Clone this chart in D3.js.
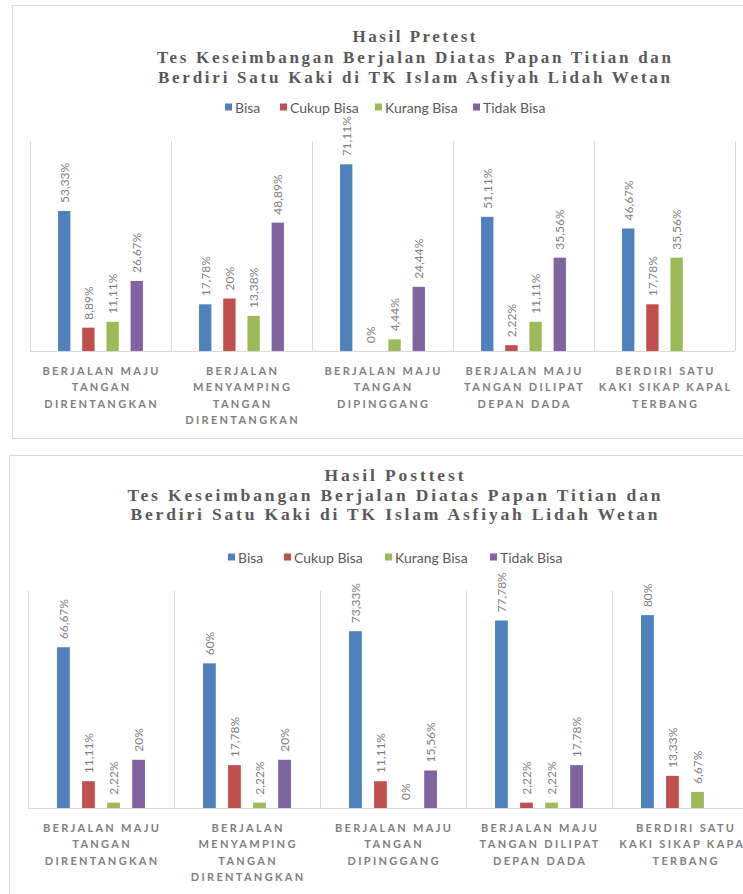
<!doctype html>
<html>
  <head>
    <style>
      body { margin: 0; background: #fff; }
      svg { display: block; }
    </style>
  </head>
  <body>
    <svg id='chart0'></svg>

    <script src='https://d3js.org/d3.v7.min.js'></script>
    <script>
      // Categories (x groups) and series shared by both charts.
      const categories = [
          'Berjalan Maju Tangan Direntangkan',
          'Berjalan Menyamping Tangan Direntangkan',
          'Berjalan Maju Tangan Dipinggang',
          'Berjalan Maju Tangan Dilipat Depan Dada',
          'Berdiri Satu Kaki Sikap Kapal Terbang',
      ];
      const series = ['Bisa', 'Cukup Bisa', 'Kurang Bisa', 'Tidak Bisa'];

      // Percentages per series, one value per category (null = no bar).
      const pretest_bisa   = [53.33, 17.78, 71.11, 51.11, 46.67];
      const pretest_cukup  = [8.89, 20, 0, 2.22, 17.78];
      const pretest_kurang = [11.11, 13.38, 4.44, 11.11, 35.56];
      const pretest_tidak  = [26.67, 48.89, 24.44, 35.56, null];

      const posttest_bisa   = [66.67, 60, 73.33, 77.78, 80];
      const posttest_cukup  = [11.11, 17.78, 11.11, 2.22, 13.33];
      const posttest_kurang = [2.22, 2.22, 0, 2.22, 6.67];
      const posttest_tidak  = [20, 20, 15.56, 17.78, null];

      const pretest_title = [
          'Hasil Pretest',
          'Tes Keseimbangan Berjalan Diatas Papan Titian dan',
          'Berdiri Satu Kaki di TK Islam Asfiyah Lidah Wetan',
      ];
      const posttest_title = [
          'Hasil Posttest',
          'Tes Keseimbangan Berjalan Diatas Papan Titian dan',
          'Berdiri Satu Kaki di TK Islam Asfiyah Lidah Wetan',
      ];

      // value axis maximum (percent) of each chart
      const pretest_axis_max = 80;
      const posttest_axis_max = 90;

      const colors = ['#4F81BD', '#C0504D', '#9BBB59', '#8064A2'];

      const width = 743;
      const height = 894;
      const sans = 'Lato, "Open Sans", sans-serif';
      const label_spacing = 2.3;
      const label_wrap = 139;

      const svg = d3.select('svg#chart0')
                    .attr('width', width)
                    .attr('height', height);

      const fmt = v => (Number.isInteger(v) ? String(v) : v.toFixed(2).replace('.', ',')) + '%';

      // word wrap using the real rendered width
      function wrap_words(text, max_width) {
          const probe = svg.append('text')
                           .attr('font-family', sans)
                           .attr('font-size', 11)
                           .attr('font-weight', 'bold')
                           .attr('letter-spacing', label_spacing);
          const words = text.toUpperCase().split(' ');
          const lines = [];
          let line = '';
          for (const w of words) {
              const test = line ? line + ' ' + w : w;
              probe.text(test);
              if (line && probe.node().getComputedTextLength() > max_width) {
                  lines.push(line);
                  line = w;
              } else {
                  line = test;
              }
          }
          lines.push(line);
          probe.remove();
          return lines;
      }

      function draw_chart(cfg) {
          const g = svg.append('g');

          g.append('rect')
           .attr('x', cfg.frame.x + 0.5)
           .attr('y', cfg.frame.y + 0.5)
           .attr('width', cfg.frame.w)
           .attr('height', cfg.frame.h)
           .attr('fill', '#fff')
           .attr('stroke', '#d9d9d9');

          // title
          g.append('g').selectAll('text')
           .data(cfg.title)
           .join('text')
           .attr('x', cfg.title_x)
           .attr('y', (d, i) => cfg.title_y[i])
           .attr('text-anchor', 'middle')
           .attr('dominant-baseline', 'central')
           .attr('font-family', '"Liberation Serif", serif')
           .attr('font-weight', 'bold')
           .attr('font-size', cfg.title_size)
           .attr('fill', '#595959')
           .attr('textLength', (d, i) => cfg.title_w[i])
           .attr('lengthAdjust', 'spacing')
           .text(d => d);

          // legend
          const leg = g.append('g').selectAll('g')
                       .data(series)
                       .join('g')
                       .attr('transform', (d, i) => `translate(${cfg.legend_x[i]},${cfg.legend_y})`);
          leg.append('rect')
             .attr('x', 0).attr('y', -3.5)
             .attr('width', 7).attr('height', 7)
             .attr('fill', (d, i) => colors[i]);
          leg.append('text')
             .attr('x', 10)
             .attr('dominant-baseline', 'central')
             .attr('font-family', sans)
             .attr('font-size', 14)
             .attr('fill', '#595959')
             .text(d => d);

          const x0 = d3.scaleBand()
                       .domain(categories)
                       .range(cfg.x_range)
                       .padding(0);
          const x1 = d3.scaleBand()
                       .domain(series)
                       .range([0, x0.bandwidth()])
                       .paddingInner(0.49)
                       .paddingOuter(1.16);
          const y = d3.scaleLinear()
                      .domain([0, cfg.axis_max])
                      .range(cfg.y_range);

          // category separators and base line
          const bounds = categories.map(c => x0(c)).concat([cfg.x_range[1]]);
          g.append('g').selectAll('line')
           .data(bounds)
           .join('line')
           .attr('x1', d => d + 0.5).attr('x2', d => d + 0.5)
           .attr('y1', y(0)).attr('y2', y(cfg.axis_max))
           .attr('stroke', '#d9d9d9');
          g.append('line')
           .attr('x1', cfg.x_range[0]).attr('x2', cfg.x_range[1])
           .attr('y1', y(0) + 0.5).attr('y2', y(0) + 0.5)
           .attr('stroke', '#d9d9d9');

          const rows = [];
          categories.forEach((c, ci) => {
              series.forEach((s, si) => {
                  const v = cfg.values[si][ci];
                  if (v !== null) rows.push({c, s, si, v});
              });
          });

          const bars = g.append('g').selectAll('g')
                        .data(rows)
                        .join('g')
                        .attr('transform', d => `translate(${x0(d.c) + x1(d.s)},0)`);
          bars.append('rect')
              .attr('x', 0)
              .attr('y', d => y(d.v))
              .attr('width', x1.bandwidth())
              .attr('height', d => y(0) - y(d.v))
              .attr('fill', d => colors[d.si]);
          bars.append('text')
              .attr('transform', d => `translate(${x1.bandwidth() / 2},${y(d.v) - 8}) rotate(-90)`)
              .attr('dominant-baseline', 'central')
              .attr('font-family', sans)
              .attr('font-size', 12)
              .attr('fill', '#7f7f7f')
              .text(d => fmt(d.v));

          // category labels
          const cat = g.append('g').selectAll('text')
                       .data(categories)
                       .join('text')
                       .attr('font-family', sans)
                       .attr('font-size', 11)
                       .attr('font-weight', 'bold')
                       .attr('letter-spacing', label_spacing)
                       .attr('fill', '#7f7f7f')
                       .attr('text-anchor', 'middle');
          cat.each(function (d) {
              const lines = wrap_words(d, label_wrap);
              d3.select(this).selectAll('tspan')
                .data(lines)
                .join('tspan')
                .attr('x', x0(d) + x0.bandwidth() / 2 + label_spacing / 2)
                .attr('y', (l, i) => cfg.cat_y + i * 16.6)
                .attr('dominant-baseline', 'central')
                .text(l => l);
          });
      }

      draw_chart({
          frame: {x: 12, y: 5, w: 780, h: 433},
          title: pretest_title,
          title_x: 414,
          title_y: [36, 57, 77],
          title_w: [123, 514, 512],
          title_size: 17,
          legend_x: [225, 280, 375, 473],
          legend_y: 107,
          x_range: [30, 735],
          y_range: [351, 141],
          axis_max: pretest_axis_max,
          values: [pretest_bisa, pretest_cukup, pretest_kurang, pretest_tidak],
          cat_y: 370,
      });

      draw_chart({
          frame: {x: 9, y: 455, w: 780, h: 460},
          title: posttest_title,
          title_x: 394,
          title_y: [475, 495, 514],
          title_w: [139, 533, 527],
          title_size: 17.5,
          legend_x: [228, 284, 385, 490],
          legend_y: 557,
          x_range: [28, 758],
          y_range: [808, 591],
          axis_max: posttest_axis_max,
          values: [posttest_bisa, posttest_cukup, posttest_kurang, posttest_tidak],
          cat_y: 827,
      });
    </script>
  </body>
</html>
